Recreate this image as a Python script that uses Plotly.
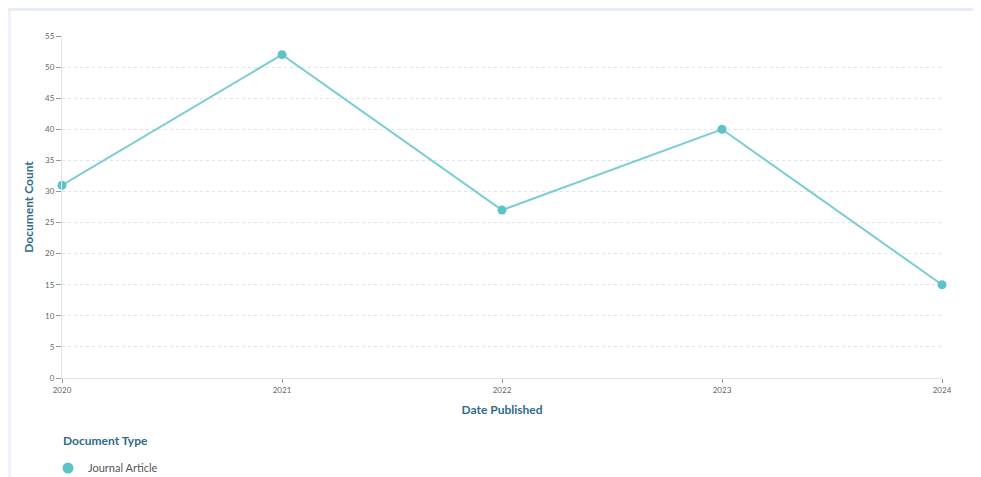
import plotly.graph_objects as go

years = [2020, 2021, 2022, 2023, 2024]
counts = [31, 52, 27, 40, 15]
series_name = "Journal Article"
legend_title = "Document Type"
y_ticks = list(range(0, 60, 5))

# page is offset by the 8px body margin
OFF = 8
W, H = 981 - OFF, 477 - OFF
ml, mt = 62 - OFF, 36 - OFF
pw, ph = 880, 342
mr = W - ml - pw
mb = H - mt - ph

def px_x(p):
    return (p - OFF - ml) / pw

def px_y(p):
    return (H - mb - (p - OFF)) / ph

def cont_y(p):
    return (H - (p - OFF)) / H

def cont_x(p):
    return (p - OFF) / W

fig = go.Figure()
fig.add_trace(go.Scatter(
    x=years, y=counts, mode="lines+markers", name=series_name,
    line=dict(color="#7ccdd3", width=2),
    marker=dict(color="#5ec2c9", size=9),
    cliponaxis=False, showlegend=False,
))
# legend entry (marker only, as in the reference legend)
fig.add_trace(go.Scatter(
    x=[None], y=[None], mode="markers", name=series_name,
    marker=dict(color="#5ec2c9", size=11), showlegend=True,
))

axis_font = dict(family="Lato, sans-serif", size=8, color="#666666")
title_font = dict(family="Lato, sans-serif", size=12, color="#2e6b8c")

fig.update_layout(
    width=W, height=H,
    margin=dict(l=ml, r=mr, t=mt, b=mb, autoexpand=False),
    paper_bgcolor="white", plot_bgcolor="white",
    font=dict(family="Lato, sans-serif"),
    showlegend=True,
    legend=dict(
        orientation="h", xref="container", yref="container",
        x=cont_x(48), xanchor="left", y=cont_y(468), yanchor="middle",
        font=dict(family="Lato, sans-serif", size=11, color="#555555"),
        itemwidth=30,
    ),
    annotations=[
        dict(text="<b>" + legend_title + "</b>", xref="paper", yref="paper",
             x=px_x(61), y=px_y(440), xanchor="left", yanchor="middle",
             showarrow=False, font=title_font),
    ],
    xaxis=dict(
        range=[2020, 2024], tickvals=years, ticktext=[str(y) for y in years],
        showgrid=False, showline=True, linecolor="#dfe6f0", linewidth=1,
        ticks="outside", ticklen=4, tickcolor="#999999", tickfont=axis_font,
        title=dict(text="<b>Date Published</b>", font=title_font, standoff=12),
        zeroline=False, fixedrange=True,
    ),
    yaxis=dict(
        range=[0, 55], tickvals=y_ticks,
        showgrid=True, gridcolor="#dde4f0", griddash="3px,3px", gridwidth=1,
        showline=True, linecolor="#dfe6f0", linewidth=1,
        ticks="outside", ticklen=5, tickcolor="#999999", tickfont=axis_font,
        title=dict(text="<b>Document Count</b>", font=dict(family="Lato, sans-serif", size=12, color="#2e6b8c"), standoff=8),
        zeroline=False, fixedrange=True,
    ),
    shapes=[
        dict(type="rect", xref="paper", yref="paper",
             x0=px_x(8), x1=px_x(W + 40), y0=px_y(11), y1=px_y(7),
             fillcolor="#e8eef9", line=dict(width=0), layer="below"),
        dict(type="rect", xref="paper", yref="paper",
             x0=px_x(8), x1=px_x(11), y0=px_y(H + 40), y1=px_y(11),
             fillcolor="#eef2fa", line=dict(width=0), layer="below"),
    ],
)

fig.write_html("out.html")
